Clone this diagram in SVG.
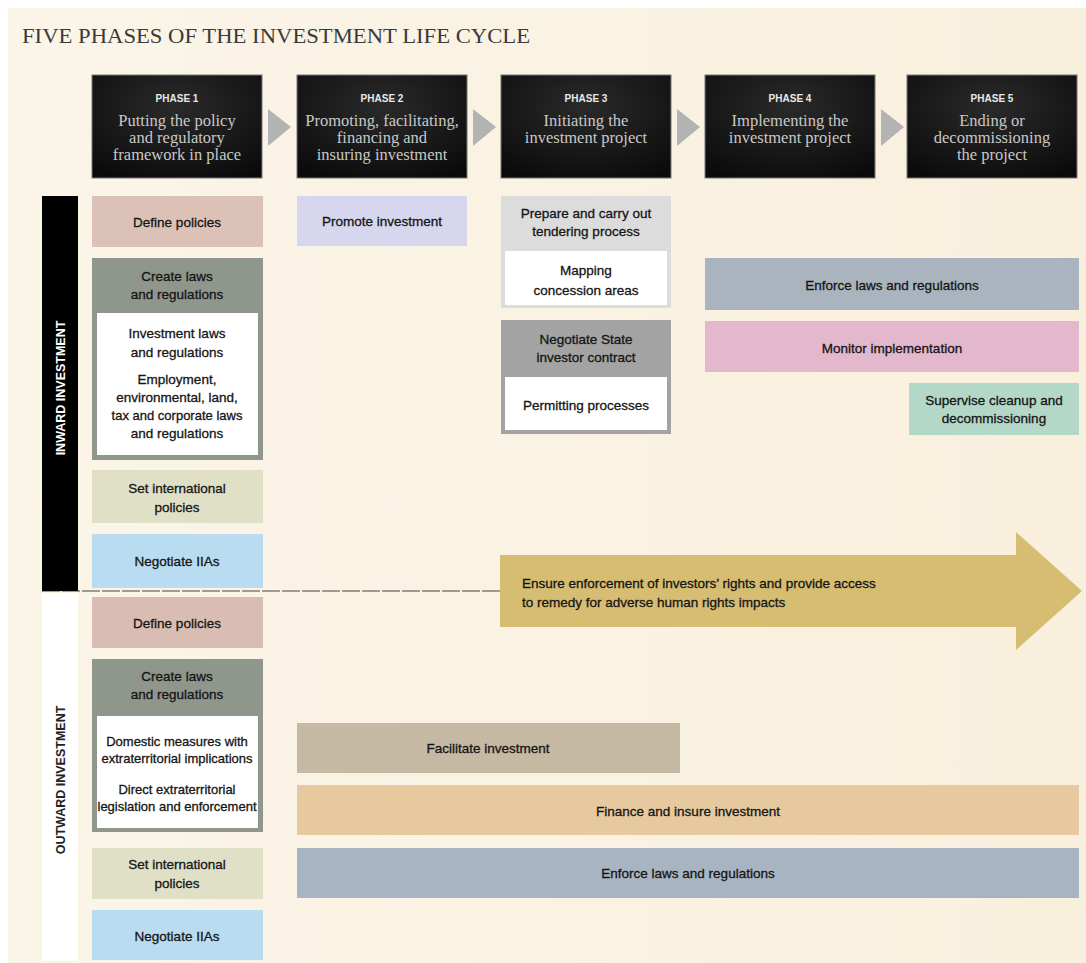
<svg xmlns="http://www.w3.org/2000/svg" width="1086" height="963" viewBox="0 0 1086 963">
<defs>
<linearGradient id="bg" x1="0" y1="0" x2="1" y2="0">
<stop offset="0" stop-color="#fbf5e8"/>
<stop offset="1" stop-color="#f9efdd"/>
</linearGradient>
<radialGradient id="phaseGrad" cx="0.5" cy="0.3" r="0.8">
<stop offset="0" stop-color="#2a2a2a"/>
<stop offset="1" stop-color="#0a0a0a"/>
</radialGradient>
<style>
.ph{fill:url(#phaseGrad);stroke:#777;stroke-width:1}
.phn{font-family:"Liberation Sans",Arial,sans-serif;font-weight:bold;font-size:10px;fill:#e8e8e8;text-anchor:middle}
.pht{font-family:"Liberation Serif","Times New Roman",serif;font-size:16.5px;fill:#c8c8c8;text-anchor:middle}
.tri{fill:#b3b3b3}
.lbl{font-family:"Liberation Sans",Arial,sans-serif;font-size:13.5px;fill:#151515;stroke:#151515;stroke-width:0.3;text-anchor:middle}
.sm{font-size:13px}
.side{font-family:"Liberation Sans",Arial,sans-serif;font-weight:bold;font-size:12.5px;text-anchor:middle}
.inner{fill:#ffffff}
</style>
</defs>
<rect x="0" y="0" width="1086" height="963" fill="#ffffff"/>
<rect x="8" y="8" width="1078" height="955" fill="url(#bg)"/>
<text x="22" y="43" font-family="'Liberation Serif','Times New Roman',serif" font-size="22" fill="#3a3a3a" textLength="508" lengthAdjust="spacingAndGlyphs">FIVE PHASES OF THE INVESTMENT LIFE CYCLE</text>

<g id="phase1"><rect class="ph" x="92" y="75" width="170" height="103"/><text class="phn" x="177" y="102">PHASE 1</text><text class="pht" x="177" y="126">Putting the policy</text><text class="pht" x="177" y="143">and regulatory</text><text class="pht" x="177" y="160">framework in place</text></g>
<g id="phase2"><rect class="ph" x="297" y="75" width="170" height="103"/><text class="phn" x="382" y="102">PHASE 2</text><text class="pht" x="382" y="126">Promoting, facilitating,</text><text class="pht" x="382" y="143">financing and</text><text class="pht" x="382" y="160">insuring investment</text></g>
<g id="phase3"><rect class="ph" x="501" y="75" width="170" height="103"/><text class="phn" x="586" y="102">PHASE 3</text><text class="pht" x="586" y="126">Initiating the</text><text class="pht" x="586" y="143">investment project</text></g>
<g id="phase4"><rect class="ph" x="705" y="75" width="170" height="103"/><text class="phn" x="790" y="102">PHASE 4</text><text class="pht" x="790" y="126">Implementing the</text><text class="pht" x="790" y="143">investment project</text></g>
<g id="phase5"><rect class="ph" x="907" y="75" width="170" height="103"/><text class="phn" x="992" y="102">PHASE 5</text><text class="pht" x="992" y="126">Ending or</text><text class="pht" x="992" y="143">decommissioning</text><text class="pht" x="992" y="160">the project</text></g>

<g id="connectors">
<polygon class="tri" points="268,109 291,127 268,146"/>
<polygon class="tri" points="473,109 496,127 473,146"/>
<polygon class="tri" points="677,109 700,127 677,146"/>
<polygon class="tri" points="881,109 904,127 881,146"/>
<line x1="42" y1="591" x2="500" y2="591" stroke="#444" stroke-width="1.2" stroke-dasharray="18 2"/>
</g>

<g id="inward-label"><rect x="42" y="196" width="36" height="395" fill="#000"/><text class="side" fill="#ffffff" transform="translate(65,388) rotate(-90)">INWARD INVESTMENT</text></g>
<g id="outward-label"><rect x="42" y="593" width="36" height="368" fill="#ffffff"/><text class="side" fill="#222" transform="translate(65,780) rotate(-90)">OUTWARD INVESTMENT</text></g>

<g id="in-define"><rect x="92" y="196" width="171" height="51" fill="#dcc1b7"/><text class="lbl" x="177" y="227">Define policies</text></g>
<g id="in-laws"><rect x="92" y="258" width="171" height="202" fill="#8f978c"/><rect class="inner" x="97" y="313" width="161" height="142"/>
<text class="lbl" x="177" y="281">Create laws</text><text class="lbl" x="177" y="299">and regulations</text>
<text class="lbl" x="177" y="338">Investment laws</text><text class="lbl" x="177" y="357">and regulations</text>
<text class="lbl" x="177" y="384">Employment,</text><text class="lbl" x="177" y="402">environmental, land,</text><text class="lbl sm" x="177" y="420">tax and corporate laws</text><text class="lbl" x="177" y="438">and regulations</text></g>
<g id="in-intl"><rect x="92" y="470" width="171" height="53" fill="#dfe0c5"/><text class="lbl" x="177" y="493">Set international</text><text class="lbl" x="177" y="512">policies</text></g>
<g id="in-iia"><rect x="92" y="534" width="171" height="54" fill="#b9dcf1"/><text class="lbl" x="177" y="566">Negotiate IIAs</text></g>

<g id="promote"><rect x="297" y="196" width="170" height="50" fill="#d6d7ee"/><text class="lbl" x="382" y="226">Promote investment</text></g>

<g id="tender"><rect x="501" y="196" width="170" height="112" fill="#dcdcdc"/><rect class="inner" x="505" y="251" width="162" height="54"/>
<text class="lbl" x="586" y="218">Prepare and carry out</text><text class="lbl" x="586" y="236">tendering process</text>
<text class="lbl" x="586" y="275">Mapping</text><text class="lbl" x="586" y="295">concession areas</text></g>
<g id="contract"><rect x="501" y="320" width="170" height="114" fill="#a3a3a3"/><rect class="inner" x="505" y="377" width="162" height="53"/>
<text class="lbl" x="586" y="344">Negotiate State</text><text class="lbl" x="586" y="362">investor contract</text>
<text class="lbl" x="586" y="410">Permitting processes</text></g>

<g id="in-enforce"><rect x="705" y="258" width="374" height="52" fill="#a9b4be"/><text class="lbl" x="892" y="290">Enforce laws and regulations</text></g>
<g id="monitor"><rect x="705" y="321" width="374" height="51" fill="#e3b8cd"/><text class="lbl" x="892" y="353">Monitor implementation</text></g>
<g id="supervise"><rect x="909" y="383" width="170" height="52" fill="#b3d8c7"/><text class="lbl" x="994" y="405">Supervise cleanup and</text><text class="lbl" x="994" y="423">decommissioning</text></g>

<g id="rights-arrow"><polygon points="500,555 1016,555 1016,532 1082,591 1016,650 1016,627 500,627" fill="#d6bd72"/>
<text class="lbl" x="522" y="588" style="text-anchor:start">Ensure enforcement of investors’ rights and provide access</text>
<text class="lbl" x="522" y="607" style="text-anchor:start">to remedy for adverse human rights impacts</text></g>

<g id="out-define"><rect x="92" y="597" width="171" height="51" fill="#d9bcb2"/><text class="lbl" x="177" y="628">Define policies</text></g>
<g id="out-laws"><rect x="92" y="659" width="171" height="173" fill="#8f978c"/><rect class="inner" x="97" y="716" width="161" height="112"/>
<text class="lbl" x="177" y="681">Create laws</text><text class="lbl" x="177" y="699">and regulations</text>
<text class="lbl sm" x="177" y="746">Domestic measures with</text><text class="lbl sm" x="177" y="763">extraterritorial implications</text>
<text class="lbl sm" x="177" y="794">Direct extraterritorial</text><text class="lbl sm" x="177" y="811">legislation and enforcement</text></g>
<g id="out-intl"><rect x="92" y="848" width="171" height="51" fill="#dfe0c5"/><text class="lbl" x="177" y="869">Set international</text><text class="lbl" x="177" y="888">policies</text></g>
<g id="out-iia"><rect x="92" y="910" width="171" height="50" fill="#b9dcf1"/><text class="lbl" x="177" y="941">Negotiate IIAs</text></g>

<g id="facilitate"><rect x="297" y="723" width="383" height="50" fill="#c5b9a3"/><text class="lbl" x="488" y="753">Facilitate investment</text></g>
<g id="finance"><rect x="297" y="785" width="782" height="50" fill="#e7c99f"/><text class="lbl" x="688" y="816">Finance and insure investment</text></g>
<g id="out-enforce"><rect x="297" y="848" width="782" height="50" fill="#a9b4c2"/><text class="lbl" x="688" y="878">Enforce laws and regulations</text></g>
</svg>
